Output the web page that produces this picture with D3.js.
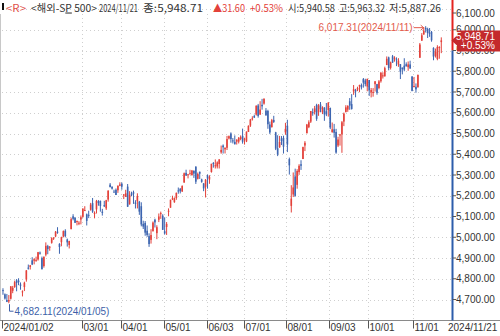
<!DOCTYPE html>
<html>
<head>
<meta charset="utf-8">
<script src="https://cdn.jsdelivr.net/npm/d3@7"></script>
<style>
    html, body { margin: 0; padding: 0; background: #fff; }
    svg { display: block; }
</style>
</head>
<body>
<div id="chart"></div>
<script>
// trading days 2024/01/02 .. 2024/11/21
const dates = [
    '01/02','01/03','01/04','01/05','01/08','01/09','01/10','01/11','01/12','01/16','01/17','01/18','01/19','01/22','01/23','01/24','01/25','01/26','01/29','01/30','01/31',
    '02/01','02/02','02/05','02/06','02/07','02/08','02/09','02/12','02/13','02/14','02/15','02/16','02/20','02/21','02/22','02/23','02/26','02/27','02/28','02/29',
    '03/01','03/04','03/05','03/06','03/07','03/08','03/11','03/12','03/13','03/14','03/15','03/18','03/19','03/20','03/21','03/22','03/25','03/26','03/27','03/28',
    '04/01','04/02','04/03','04/04','04/05','04/08','04/09','04/10','04/11','04/12','04/15','04/16','04/17','04/18','04/19','04/22','04/23','04/24','04/25','04/26','04/29','04/30',
    '05/01','05/02','05/03','05/06','05/07','05/08','05/09','05/10','05/13','05/14','05/15','05/16','05/17','05/20','05/21','05/22','05/23','05/24','05/28','05/29','05/30','05/31',
    '06/03','06/04','06/05','06/06','06/07','06/10','06/11','06/12','06/13','06/14','06/17','06/18','06/20','06/21','06/24','06/25','06/26','06/27','06/28',
    '07/01','07/02','07/03','07/05','07/08','07/09','07/10','07/11','07/12','07/15','07/16','07/17','07/18','07/19','07/22','07/23','07/24','07/25','07/26','07/29','07/30','07/31',
    '08/01','08/02','08/05','08/06','08/07','08/08','08/09','08/12','08/13','08/14','08/15','08/16','08/19','08/20','08/21','08/22','08/23','08/26','08/27','08/28','08/29','08/30',
    '09/03','09/04','09/05','09/06','09/09','09/10','09/11','09/12','09/13','09/16','09/17','09/18','09/19','09/20','09/23','09/24','09/25','09/26','09/27','09/30',
    '10/01','10/02','10/03','10/04','10/07','10/08','10/09','10/10','10/11','10/14','10/15','10/16','10/17','10/18','10/21','10/22','10/23','10/24','10/25','10/28','10/29','10/30','10/31',
    '11/01','11/04','11/05','11/06','11/07','11/08','11/11','11/12','11/13','11/14','11/15','11/18','11/19','11/20','11/21'
];

const opens = [
    4745.2,4725.1,4697.4,4690.6,4703.7,4741.9,4759.9,4792.1,4791.2,4772.4,4739.1,4760.1,4796.3,4853.4,4856.8,4888.6,4886.7,4888.9,4893.0,4925.9,4899.2,
    4861.1,4916.1,4957.2,4950.2,4973.1,4995.2,5004.2,5026.8,4967.9,4976.4,5003.1,5031.1,4989.3,4963.0,5038.8,5100.9,5093.0,5074.6,5067.2,5085.4,
    5098.5,5131.0,5110.5,5108.0,5132.4,5164.5,5112.0,5134.3,5173.5,5175.1,5123.3,5154.8,5139.1,5181.7,5253.4,5242.5,5219.5,5228.9,5226.3,5248.0,
    5258.0,5204.3,5194.4,5244.1,5158.9,5211.4,5217.0,5167.9,5173.0,5171.5,5149.7,5064.6,5069.0,5031.5,5005.4,4987.3,5028.9,5084.7,5019.9,5084.6,5114.1,5103.8,
    5029.0,5049.3,5122.8,5142.4,5187.2,5169.0,5189.0,5225.5,5233.1,5221.1,5263.3,5310.1,5303.1,5305.4,5298.7,5319.3,5340.3,5281.5,5315.9,5278.7,5259.8,5243.2,
    5297.2,5278.2,5314.5,5357.8,5343.8,5341.2,5353.0,5409.1,5441.9,5424.1,5431.1,5476.2,5500.0,5466.8,5459.6,5460.7,5460.7,5473.6,5488.5,
    5471.1,5461.8,5507.4,5537.9,5572.8,5584.2,5591.3,5635.2,5590.8,5638.2,5644.1,5610.2,5608.6,5543.4,5530.4,5565.3,5505.8,5428.7,5433.7,5476.6,5478.7,5505.6,
    5537.8,5376.6,5151.1,5206.4,5293.1,5252.6,5314.0,5351.9,5377.0,5442.0,5501.1,5530.5,5557.2,5602.9,5603.1,5637.8,5602.9,5639.7,5602.9,5624.5,5607.3,5612.7,
    5623.9,5506.7,5520.1,5507.3,5442.1,5490.5,5496.4,5557.5,5603.3,5615.2,5655.5,5641.7,5702.6,5709.0,5711.9,5727.3,5733.6,5762.2,5755.4,5726.5,
    5757.7,5698.2,5698.2,5737.8,5737.8,5719.1,5751.8,5778.4,5775.1,5829.8,5866.7,5816.6,5872.2,5859.4,5857.8,5832.7,5834.5,5817.8,5826.8,5833.9,5819.7,5832.7,5775.3,
    5723.2,5725.2,5722.4,5864.9,5947.2,5976.8,6008.9,6003.6,5985.8,5989.6,5912.8,5874.2,5859.3,5914.6,5940.58
];

const highs = [
    4754.3,4729.3,4726.8,4721.5,4764.5,4765.5,4790.8,4798.5,4802.4,4782.3,4744.2,4785.8,4842.1,4868.4,4866.5,4903.7,4898.2,4906.7,4929.3,4931.1,4906.8,
    4907.0,4975.3,4963.4,4957.8,4999.9,5000.4,5030.1,5048.4,4971.3,5002.5,5032.7,5038.7,4993.6,4983.2,5094.4,5111.1,5097.7,5080.7,5077.4,5105.0,
    5140.3,5149.7,5114.5,5128.0,5165.6,5189.3,5124.7,5179.9,5179.1,5176.9,5136.9,5175.6,5180.3,5226.2,5261.1,5246.1,5229.1,5235.2,5249.3,5264.9,
    5264.0,5208.3,5228.8,5256.6,5222.2,5219.6,5224.8,5178.4,5211.8,5175.0,5168.4,5079.8,5078.0,5056.7,5019.0,5038.8,5076.1,5089.5,5057.8,5114.6,5123.5,5110.8,
    5096.1,5073.2,5139.1,5181.0,5200.2,5192.0,5215.3,5239.7,5237.3,5250.4,5311.8,5325.5,5305.4,5325.3,5324.3,5323.2,5341.9,5311.7,5315.9,5282.3,5260.2,5280.3,
    5302.1,5298.8,5354.2,5362.4,5375.1,5365.8,5376.0,5441.9,5447.3,5432.4,5488.5,5490.4,5505.5,5478.3,5490.7,5472.9,5483.1,5490.8,5523.6,
    5479.6,5509.7,5539.3,5570.3,5583.1,5590.8,5635.4,5642.5,5655.6,5666.9,5669.7,5622.5,5614.1,5557.5,5570.4,5585.3,5508.0,5491.6,5488.3,5487.7,5489.5,5551.5,
    5566.2,5383.9,5250.9,5312.3,5330.6,5328.0,5351.9,5371.2,5436.5,5463.2,5546.2,5563.5,5608.3,5620.5,5632.7,5643.2,5641.8,5651.6,5631.2,5627.0,5647.0,5651.4,
    5623.9,5553.0,5546.3,5522.5,5484.2,5497.9,5560.4,5600.7,5636.3,5636.1,5670.8,5689.8,5733.6,5715.1,5725.4,5735.3,5741.0,5767.4,5763.8,5765.1,
    5757.7,5719.1,5718.8,5753.1,5739.3,5757.6,5796.8,5795.0,5822.1,5871.4,5870.4,5846.4,5878.5,5872.2,5866.9,5863.0,5834.9,5817.8,5862.8,5842.9,5847.2,5850.9,5775.3,
    5772.5,5741.4,5783.4,5936.1,5983.8,6012.5,6017.31,6009.9,6008.2,5993.9,5915.3,5909.4,5925.4,5920.7,5963.32
];

const lows = [
    4722.7,4699.7,4687.5,4682.11,4699.8,4730.4,4756.2,4739.6,4769.0,4747.1,4714.8,4740.6,4785.9,4844.1,4844.4,4865.9,4869.3,4881.5,4887.4,4916.3,4845.2,
    4853.5,4908.0,4918.1,4934.9,4969.1,4987.1,5000.3,5016.9,4920.3,4956.5,4999.4,4999.5,4955.0,4946.0,5038.8,5081.5,5068.9,5057.3,5058.4,5061.9,
    5094.5,5127.2,5056.8,5092.2,5128.2,5117.5,5091.1,5114.5,5151.9,5123.3,5104.4,5145.5,5131.6,5171.6,5240.7,5229.9,5216.1,5203.4,5213.9,5245.8,
    5229.2,5184.1,5194.4,5146.1,5157.2,5197.4,5160.8,5138.7,5138.8,5107.9,5052.5,5039.8,5007.3,5001.9,4953.6,4969.4,5028.0,5047.0,4990.6,5073.1,5088.7,5035.3,
    5013.5,5011.1,5101.2,5142.4,5179.0,5165.9,5180.4,5209.7,5211.2,5218.0,5263.3,5296.2,5283.6,5302.4,5297.9,5286.0,5256.9,5278.4,5280.9,5262.7,5222.1,5191.7,
    5234.3,5257.6,5311.3,5335.4,5331.3,5331.5,5331.3,5402.5,5403.4,5403.8,5420.4,5471.3,5455.6,5452.0,5447.6,5446.6,5451.9,5467.5,5451.1,
    5446.5,5458.4,5507.4,5531.6,5562.5,5574.6,5586.4,5576.5,5590.4,5614.8,5639.0,5584.8,5522.8,5497.0,5529.0,5550.9,5420.0,5391.0,5430.7,5444.4,5403.4,5493.7,
    5410.4,5302.0,5119.3,5193.6,5195.5,5233.9,5300.6,5324.4,5377.0,5415.3,5501.1,5525.9,5550.7,5585.5,5591.6,5561.0,5585.2,5602.3,5593.5,5561.0,5583.7,5581.3,
    5521.2,5503.7,5480.2,5402.6,5434.5,5441.7,5407.0,5535.5,5601.6,5604.5,5614.1,5615.1,5686.4,5674.5,5704.2,5699.0,5712.1,5721.0,5727.3,5703.5,
    5681.3,5674.0,5677.5,5701.9,5686.9,5712.9,5745.0,5764.8,5775.1,5829.8,5804.5,5808.3,5840.3,5846.1,5824.8,5821.2,5762.4,5784.9,5800.0,5823.1,5802.4,5811.3,5703.5,
    5723.2,5696.5,5722.1,5864.9,5947.2,5976.8,5986.7,5960.1,5965.9,5942.3,5853.0,5866.0,5853.0,5860.3,5887.26
];

const closes = [
    4742.8,4704.8,4688.7,4697.2,4763.5,4756.5,4783.5,4780.2,4783.8,4766.0,4739.2,4780.9,4839.8,4850.4,4864.6,4868.6,4894.2,4891.0,4927.9,4925.0,4845.7,
    4906.2,4958.6,4942.8,4954.2,4995.1,4997.9,5026.6,5021.8,4953.2,5000.6,5029.7,5005.6,4975.5,4981.8,5087.0,5088.8,5069.5,5078.2,5069.8,5096.3,
    5137.1,5131.0,5078.7,5104.8,5157.4,5123.7,5117.9,5175.3,5165.3,5150.5,5117.1,5149.4,5178.5,5224.6,5241.5,5234.2,5218.2,5203.6,5248.5,5254.4,
    5243.8,5205.8,5211.5,5147.2,5204.3,5202.4,5209.9,5160.6,5199.1,5123.4,5061.8,5051.4,5022.2,5011.1,4967.2,5010.6,5070.6,5071.6,5048.4,5100.0,5116.2,5035.7,
    5018.4,5064.2,5127.8,5180.7,5187.7,5187.7,5214.1,5222.7,5221.4,5246.7,5308.2,5297.1,5303.3,5308.1,5321.4,5307.0,5267.8,5304.7,5306.0,5267.0,5235.5,5277.5,
    5283.4,5291.3,5354.0,5353.0,5347.0,5360.8,5375.3,5421.0,5433.7,5431.6,5473.2,5487.0,5473.2,5464.6,5447.9,5469.3,5477.9,5482.9,5460.5,
    5475.1,5509.0,5537.0,5567.2,5572.9,5577.0,5633.9,5584.5,5615.4,5631.2,5667.2,5588.3,5544.6,5505.0,5564.4,5555.7,5427.1,5399.2,5459.1,5463.5,5436.4,5522.3,
    5446.7,5346.6,5186.3,5240.0,5199.5,5319.3,5344.2,5344.4,5434.4,5455.2,5543.2,5554.3,5608.3,5597.1,5620.9,5570.6,5634.6,5616.8,5625.8,5592.2,5592.0,5648.4,
    5528.9,5520.1,5503.4,5408.4,5471.1,5495.5,5554.1,5595.8,5626.0,5633.1,5634.6,5618.3,5713.6,5702.6,5718.6,5732.9,5722.3,5745.4,5738.2,5762.5,
    5708.8,5709.5,5699.9,5751.1,5695.9,5751.1,5792.0,5780.1,5815.0,5859.9,5815.3,5842.5,5841.5,5864.7,5854.0,5851.2,5797.4,5809.9,5808.1,5823.5,5832.9,5813.7,5705.5,
    5728.8,5712.7,5782.8,5929.0,5973.1,5995.5,6001.4,5984.0,5985.4,5949.2,5870.6,5893.6,5917.0,5917.11,5948.71
];

const tickDays = ['01/02', '03/01', '04/01', '05/01', '06/03', '07/01', '08/01', '09/03', '10/01', '11/01'];
const tickLabels = ['2024/01/02', '03/01', '04/01', '05/01', '06/03', '07/01', '08/01', '09/03', '10/01', '11/01'];
const priceTicks = [4700, 4800, 4900, 5000, 5100, 5200, 5300, 5400, 5500, 5600, 5700, 5800, 5900, 6000, 6100];

const title = '<해외-SP 500>';
const lastDate = '2024/11/21';

let width = 500, height = 336;
let red = '#e3413a', blue = '#3d65b0';
let fmt = d3.format(',.2f');

let svg = d3.select('#chart').append('svg')
    .attr('width', width)
    .attr('height', height)
    .style('font-family', '"Liberation Sans", Arial, sans-serif');

let x = d3.scaleLinear().domain([0, 231]).range([2, 452]);
let y = d3.scaleLinear().domain([4700, 6100]).range([299.5, 9]);
let axisX = 452.5, baseY = 320.5;

// grid
svg.append('g').selectAll('line')
    .data(priceTicks)
    .enter().append('line')
    .attr('x1', 2).attr('x2', axisX)
    .attr('y1', d => Math.round(y(d)) + 0.5)
    .attr('y2', d => Math.round(y(d)) + 0.5)
    .attr('stroke', '#cfcfcf')
    .attr('stroke-dasharray', '1,3');

svg.append('g').selectAll('line')
    .data(tickDays.slice(1))
    .enter().append('line')
    .attr('x1', d => Math.round(x(dates.indexOf(d))) + 0.5)
    .attr('x2', d => Math.round(x(dates.indexOf(d))) + 0.5)
    .attr('y1', 14).attr('y2', baseY)
    .attr('stroke', '#cfcfcf')
    .attr('stroke-dasharray', '1,3');

// left frame + bottom line
svg.append('line')
    .attr('x1', 0.5).attr('x2', 0.5).attr('y1', 14).attr('y2', baseY)
    .attr('stroke', '#c8c8c8');
svg.append('line')
    .attr('x1', 0).attr('x2', width).attr('y1', baseY).attr('y2', baseY)
    .attr('stroke', '#8a8a8a');

// candles
let candles = svg.append('g').selectAll('g')
    .data(dates.map((d, i) => ({i: i, o: opens[i], h: highs[i], l: lows[i], c: closes[i]})))
    .enter().append('g')
    .attr('fill', d => d.c >= d.o ? red : blue)
    .attr('stroke', d => d.c >= d.o ? red : blue);

candles.append('line')
    .attr('x1', d => x(d.i + 0.5)).attr('x2', d => x(d.i + 0.5))
    .attr('y1', d => y(d.h)).attr('y2', d => y(d.l))
    .attr('stroke-width', 1);

candles.append('rect')
    .attr('x', d => x(d.i + 0.5) - 0.8)
    .attr('width', 1.6)
    .attr('y', d => y(Math.max(d.o, d.c)))
    .attr('height', d => Math.max(1, Math.abs(y(d.o) - y(d.c))))
    .attr('stroke', 'none');

// high / low notes
let hiIdx = d3.maxIndex(highs), loIdx = d3.minIndex(lows);
let hiX = x(hiIdx + 0.5), hiY = y(highs[hiIdx]) + 1.5;
svg.append('text')
    .attr('x', hiX - 13).attr('y', hiY + 3.5)
    .attr('text-anchor', 'end')
    .attr('font-size', 10)
    .attr('fill', '#e35b4c')
    .text(fmt(highs[hiIdx]) + '(2024/' + dates[hiIdx] + ')');
svg.append('path')
    .attr('d', 'M' + (hiX - 12) + ',' + hiY + 'H' + (hiX - 2) + 'M' + (hiX - 5) + ',' + (hiY - 2.5) + 'L' + (hiX - 2) + ',' + hiY + 'L' + (hiX - 5) + ',' + (hiY + 2.5))
    .attr('fill', 'none')
    .attr('stroke', '#e35b4c');

let loX = Math.round(x(loIdx + 0.5)) + 0.5, loY = y(lows[loIdx]);
svg.append('path')
    .attr('d', 'M' + loX + ',' + (loY + 1) + 'V' + (loY + 8) + 'H' + (loX + 4))
    .attr('fill', 'none')
    .attr('stroke', '#3d5fa8');
svg.append('text')
    .attr('x', loX + 5).attr('y', loY + 11.5)
    .attr('font-size', 10)
    .attr('fill', '#3d5fa8')
    .text(fmt(lows[loIdx]) + '(2024/' + dates[loIdx] + ')');

// right axis
let last = closes.length - 1;
let lastY = y(closes[last]);
let change = closes[last] - closes[last - 1];
let pct = change / closes[last - 1] * 100;

svg.append('line')
    .attr('x1', axisX).attr('x2', axisX).attr('y1', 0).attr('y2', lastY + 10)
    .attr('stroke', '#e4231e').attr('stroke-width', 2);
svg.append('line')
    .attr('x1', axisX).attr('x2', axisX).attr('y1', lastY + 10).attr('y2', baseY)
    .attr('stroke', '#2c5dab').attr('stroke-width', 2);

let yt = svg.append('g').selectAll('g')
    .data(priceTicks)
    .enter().append('g')
    .attr('transform', d => 'translate(0,' + Math.max(13, y(d)) + ')');
yt.append('line')
    .attr('x1', axisX).attr('x2', axisX + 3.5)
    .attr('stroke', '#555');
yt.append('text')
    .attr('x', 456).attr('dy', '0.35em')
    .attr('font-size', 10)
    .attr('fill', '#333')
    .text(d => fmt(d));

// current price flag, drawn over the 5,900 / 6,000 labels as in the terminal
svg.append('path')
    .attr('d', 'M' + (axisX - 1) + ',' + lastY + 'L457,' + (lastY - 5) + 'V' + (lastY - 10) + 'H500V' + (lastY + 11) + 'H457V' + (lastY + 5) + 'Z')
    .attr('fill', '#c42a2c');
svg.append('text')
    .attr('x', 495).attr('y', lastY - 0.5)
    .attr('text-anchor', 'end')
    .attr('font-size', 10)
    .attr('fill', '#fff')
    .text(fmt(closes[last]));
svg.append('text')
    .attr('x', 495).attr('y', lastY + 8.5)
    .attr('text-anchor', 'end')
    .attr('font-size', 10)
    .attr('fill', '#fff')
    .text('+' + pct.toFixed(2) + '%');

// bottom axis
let xt = svg.append('g').selectAll('g')
    .data(tickDays)
    .enter().append('g')
    .attr('transform', d => 'translate(' + (Math.round(x(dates.indexOf(d))) + 0.5) + ',0)');
xt.append('line')
    .attr('y1', baseY).attr('y2', baseY + 8)
    .attr('stroke', '#555');
xt.append('text')
    .attr('x', 1).attr('y', 331)
    .attr('font-size', 10)
    .attr('fill', '#333')
    .text((d, i) => tickLabels[i]);
svg.append('text')
    .attr('x', 448).attr('y', 331)
    .attr('font-size', 10)
    .attr('fill', '#333')
    .text(lastDate);

// header
svg.append('rect')
    .attr('x', 2).attr('y', 3).attr('width', 2).attr('height', 7)
    .attr('fill', '#111');

let header = [
    {t: '<R>', x: 6, len: 20, c: '#e0504a'},
    {t: title, x: 31, len: 66, c: '#333'},
    {t: lastDate, x: 99, len: 39, c: '#333'},
    {t: '종:' + fmt(closes[last]), x: 143, len: 60, c: '#333'},
    {t: '▲' + change.toFixed(2), x: 213, len: 32, c: red},
    {t: '+' + pct.toFixed(2) + '%', x: 250, len: 33, c: red},
    {t: '시:' + fmt(opens[last]), x: 288, len: 47, c: '#333'},
    {t: '고:' + fmt(highs[last]), x: 339, len: 46, c: '#333'},
    {t: '저:' + fmt(lows[last]), x: 389, len: 52, c: '#333'}
];

header.forEach((h) => {
    let t = svg.append('text')
        .attr('x', h.x).attr('y', 11.5)
        .attr('font-size', 10.5)
        .attr('font-family', '"Noto Sans CJK KR", sans-serif')
        .attr('fill', h.c)
        .attr('textLength', h.len)
        .attr('lengthAdjust', 'spacingAndGlyphs');
    if (h.t === title) {
        // "S&P" shows the P underlined (windows mnemonic)
        t.append('tspan').text('<해외-S');
        t.append('tspan').style('text-decoration', 'underline').text('P');
        t.append('tspan').text(' 500>');
    } else {
        t.text(h.t);
    }
});
</script>
</body>
</html>
